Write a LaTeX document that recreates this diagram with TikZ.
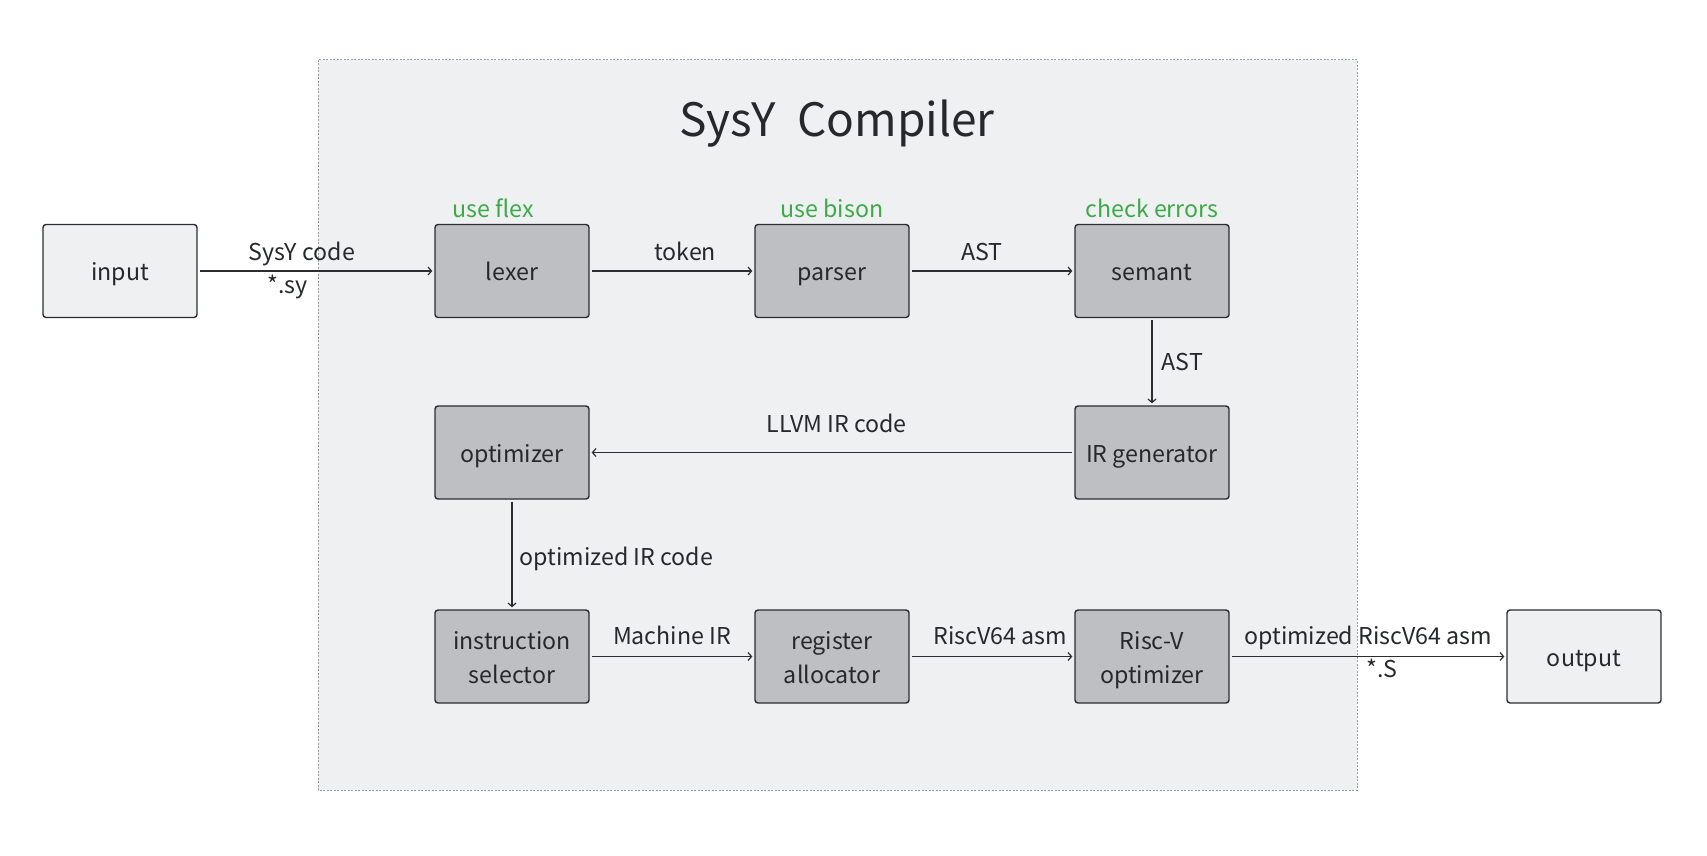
\documentclass[tikz,border=0pt]{standalone}
\usepackage{fontspec}
\setmainfont{Noto Sans CJK SC}
\usetikzlibrary{arrows.meta}
\definecolor{framefill}{HTML}{EFF0F1}
\definecolor{framedraw}{HTML}{9A9C9E}
\definecolor{procfill}{HTML}{BDBFC2}
\definecolor{iofill}{HTML}{EFF0F1}
\definecolor{edgec}{HTML}{2B2D30}
\definecolor{textc}{HTML}{26282C}
\definecolor{notec}{HTML}{3DAA48}
\newcommand{\bl}[1]{\rule[-6.7pt]{0pt}{33.2pt}#1}
\begin{document}
\begin{tikzpicture}[x=1pt,y=-1pt,
  every node/.style={font=\fontsize{23.2}{34}\selectfont, text=textc},
  box/.style={draw=edgec, line width=1.4pt, rounded corners=3pt,
    minimum width=154pt, minimum height=93pt, align=center, inner sep=0pt},
  proc/.style={box, fill=procfill},
  iobox/.style={box, fill=iofill},
  conn/.style={draw=edgec, line width=1.2pt,
    -{Straight Barb[length=3.5pt,width=8pt,line width=1.2pt]}, shorten >=2pt, shorten <=2pt},
  lbl/.style={inner sep=0pt, anchor=base},
  notelbl/.style={inner sep=0pt, anchor=base, text=notec}]
\useasboundingbox (0,0) rectangle (1707,856);
% frame
\path[fill=framefill, draw=framedraw, line width=1pt, dash pattern=on 2pt off 1.5pt]
  (318,60) rectangle (1357,790);
\node[inner sep=0pt, font=\fontsize{46}{50}\selectfont] (title) at (837,124) {SysY\hspace{0.25em} Compiler};
% boxes
\node[iobox] (input) at (120,271) {\bl{input}};
\node[proc] (lexer) at (512,271) {\bl{lexer}};
\node[proc] (parser) at (832,271) {\bl{parser}};
\node[proc] (semant) at (1152,271) {\bl{semant}};
\node[proc] (irgen) at (1152,452.5) {\bl{IR generator}};
\node[proc] (opt) at (512,452.5) {\bl{optimizer}};
\node[proc] (isel) at (512,656.5) {\bl{instruction}\\\bl{selector}};
\node[proc] (ralloc) at (832,656.5) {\bl{register}\\\bl{allocator}};
\node[proc] (rvopt) at (1152,656.5) {\bl{Risc-V}\\\bl{optimizer}};
\node[iobox] (output) at (1584,656.5) {\bl{output}};
% notes
\node[notelbl] (n1) at (493,217) {use flex};
\node[notelbl] (n2) at (832,217) {use bison};
\node[notelbl] (n3) at (1152,217) {check errors};
% connectors
\draw[conn] (input) -- node[lbl, pos=.44, yshift=11pt] {SysY code}
  node[lbl, pos=.38, yshift=-22pt] {*.sy} (lexer);
\draw[conn] (lexer) -- node[lbl, pos=.58, yshift=11pt] {token} (parser);
\draw[conn] (parser) -- node[lbl, pos=.44, yshift=11pt] {AST} (semant);
\draw[conn] (semant) -- node[inner sep=0pt, anchor=west, xshift=9pt] {AST} (irgen);
\draw[conn] (irgen) -- node[lbl, pos=.49, yshift=20pt] {LLVM IR code} (opt);
\draw[conn] (opt) -- node[lbl, anchor=base west, xshift=7pt, yshift=-10.5pt] {optimized IR code} (isel);
\draw[conn] (isel) -- node[lbl, pos=.5, yshift=12pt] {Machine IR} (ralloc);
\draw[conn] (ralloc) -- node[lbl, pos=.55, yshift=12pt] {RiscV64 asm} (rvopt);
\draw[conn] (rvopt) -- node[lbl, pos=.5, yshift=12pt] {optimized RiscV64 asm}
  node[lbl, pos=.55, yshift=-21pt] {*.S} (output);
\end{tikzpicture}
\end{document}
